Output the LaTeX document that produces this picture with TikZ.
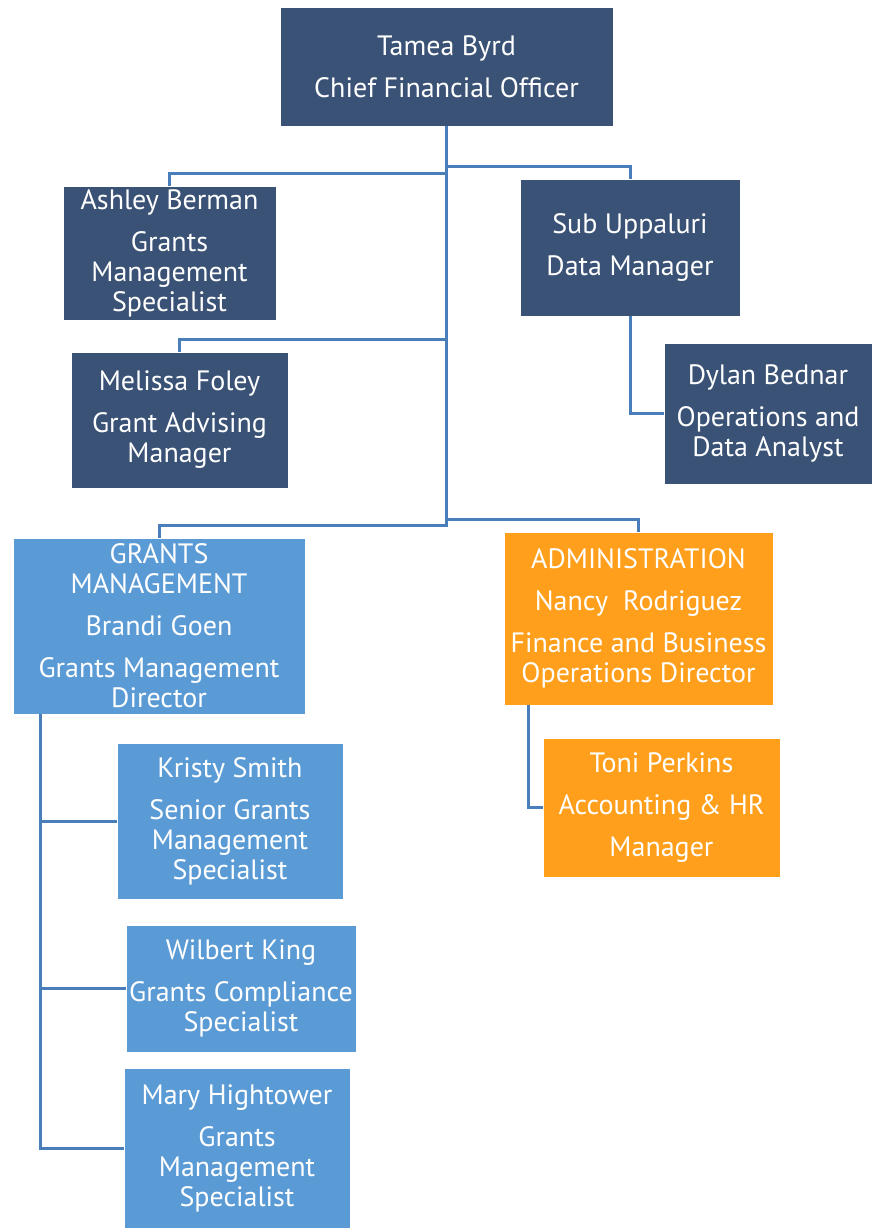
\documentclass[tikz,border=0pt]{standalone}
\usepackage{fontspec}
\setmainfont{PT Sans}
\usepackage{tikz}
\usetikzlibrary{positioning}
\definecolor{navy}{RGB}{58,82,117}
\definecolor{sky}{RGB}{91,155,213}
\definecolor{amber}{RGB}{255,159,27}
\definecolor{wire}{RGB}{74,126,187}
\tikzset{>=stealth}

\begin{document}
\begin{tikzpicture}[x=0.5pt, y=-0.5pt,
  box/.style 2 args={inner sep=0pt, align=center, text=white, draw=white, line width=0.4pt,
    minimum width=#1*0.5pt, minimum height=#2*0.5pt,
    font=\fontsize{14}{15}\selectfont},
  dark/.style={fill=navy},
  light/.style={fill=sky},
  orange/.style={fill=amber},
  link/.style={draw=wire, line width=1.5pt}]
\useasboundingbox (0,0) rectangle (875,1232);

% top
\node[box={333}{119}, dark] (cfo) at (446.5,66.5) {Tamea Byrd\\[6pt]Chief Financial Officer};

% staff
\node[box={213}{134}, dark] (ashley) at (169.5,253) {Ashley Berman\\[6pt]Grants\\Management\\Specialist};
\node[box={220}{137}, dark] (sub) at (630,247.5) {Sub Uppaluri\\[6pt]Data Manager};
\node[box={217}{136}, dark] (melissa) at (179.5,420) {Melissa Foley\\[6pt]Grant Advising\\Manager};
\node[box={208}{141}, dark] (dylan) at (768,413.5) {Dylan Bednar\\[6pt]Operations and\\Data Analyst};

% departments
\node[box={292}{176}, light] (gm) at (159,626) {GRANTS\\MANAGEMENT\\[6pt]Brandi Goen\\[6pt]Grants Management\\Director};
\node[box={269}{173}, orange] (admin) at (638.5,618.5) {ADMINISTRATION\\[6pt]Nancy\ \ Rodriguez\\[6pt]Finance and Business\\Operations Director};

\node[box={226}{156}, light] (kristy) at (230,821) {Kristy Smith\\[6pt]Senior Grants\\Management\\Specialist};
\node[box={230}{127}, light] (wilbert) at (241,988.5) {Wilbert King\\[6pt]Grants Compliance\\Specialist};
\node[box={226}{160}, light] (mary) at (237,1148) {Mary Hightower\\[6pt]Grants\\Management\\Specialist};
\node[box={237}{139}, orange] (toni) at (661.5,807.5) {Toni Perkins\\[6pt]Accounting \& HR\\[6pt]Manager};

% lines
\draw[link] (cfo.south) -- ++(0,40) -| (sub.north);
\draw[link] (cfo.south) -- ++(0,47) -| (ashley.north);
\draw[link] (cfo.south) -- ++(0,213) -| (melissa.north);
\draw[link] (cfo.south) -- ++(0,393) -| (admin.north);
\draw[link] (cfo.south) -- ++(0,399) -| (gm.north);
\draw[link] (sub.south) |- (dylan.west);
\draw[link] ([xshift=14pt]gm.south west) |- (kristy.west);
\draw[link] ([xshift=14pt]gm.south west) |- (wilbert.west);
\draw[link] ([xshift=14pt]gm.south west) |- (mary.west);
\draw[link] ([xshift=12.5pt]admin.south west) |- (toni.west);
\end{tikzpicture}
\end{document}
